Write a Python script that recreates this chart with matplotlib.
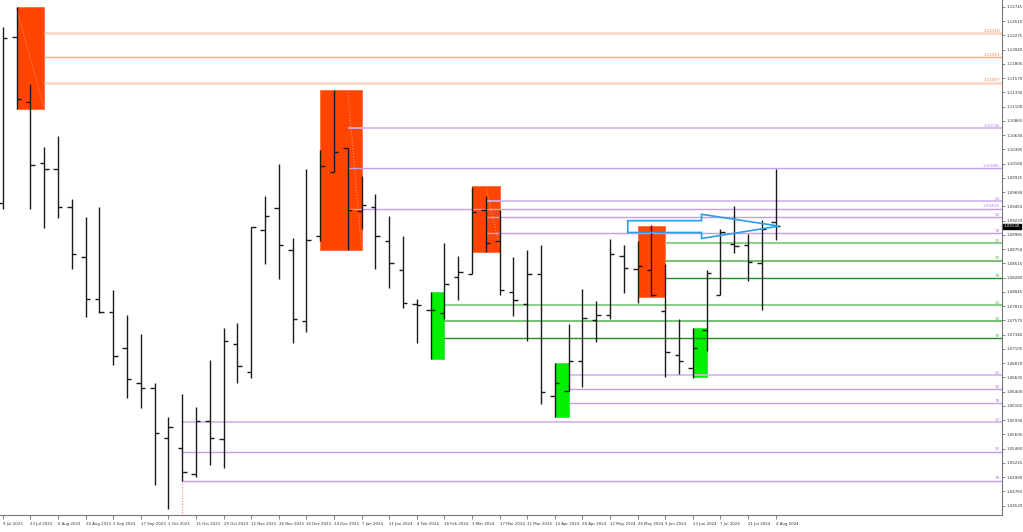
import matplotlib
matplotlib.use("Agg")
import matplotlib.pyplot as plt
from matplotlib.patches import Rectangle, Polygon

# ---------------- data ----------------
date_labels = ["9 Jul 2023", "23 Jul 2023", "6 Aug 2023", "20 Aug 2023", "3 Sep 2023",
               "17 Sep 2023", "1 Oct 2023", "15 Oct 2023", "29 Oct 2023", "12 Nov 2023",
               "26 Nov 2023", "10 Dec 2023", "24 Dec 2023", "7 Jan 2024", "21 Jan 2024",
               "4 Feb 2024", "18 Feb 2024", "3 Mar 2024", "17 Mar 2024", "31 Mar 2024",
               "14 Apr 2024", "28 Apr 2024", "12 May 2024", "26 May 2024", "9 Jun 2024",
               "23 Jun 2024", "7 Jul 2024", "21 Jul 2024", "4 Aug 2024"]

opens = [1.0951, 1.1225, 1.1118, 1.1017, 1.1007, 1.0945, 1.0862, 1.0793, 1.0772, 1.0712,
         1.0654, 1.0646, 1.0563, 1.0548, 1.0504, 1.0592, 1.0562, 1.0718, 1.0673, 1.0907,
         1.0943, 1.0874, 1.0756, 1.0896, 1.1002, 1.1042, 1.0938, 1.0944, 1.0888, 1.0840,
         1.0784, 1.0774, 1.0770, 1.0829, 1.0834, 1.0940, 1.0888, 1.0805, 1.0784, 1.0834,
         1.0633, 1.0641, 1.0691, 1.0758, 1.0767, 1.0864, 1.0842, 1.0840, 1.0773, 1.0701,
         1.0679, 1.0741, 1.0800, 1.0883, 1.0882, 1.0852, 1.0920]
highs = [1.1242, 1.1274, 1.1148, 1.1044, 1.1062, 1.0958, 1.0928, 1.0944, 1.0807, 1.0767,
         1.0735, 1.0654, 1.0598, 1.0637, 1.0614, 1.0692, 1.0745, 1.0754, 1.0912, 1.0963,
         1.1016, 1.0893, 1.1007, 1.1039, 1.1138, 1.1042, 1.0996, 1.0966, 1.0930, 1.0896,
         1.0793, 1.0804, 1.0886, 1.0864, 1.0978, 1.0962, 1.0940, 1.0862, 1.0874, 1.0882,
         1.0688, 1.0752, 1.0810, 1.0789, 1.0892, 1.0882, 1.0888, 1.0915, 1.0850, 1.0760,
         1.0745, 1.0841, 1.0909, 1.0946, 1.0900, 1.0924, 1.1007]
lows = [1.0941, 1.1107, 1.0941, 1.0910, 1.0927, 1.0843, 1.0763, 1.0769, 1.0684, 1.0629,
        1.0613, 1.0486, 1.0446, 1.0493, 1.0500, 1.0519, 1.0515, 1.0654, 1.0662, 1.0850,
        1.0826, 1.0721, 1.0739, 1.0889, 1.1002, 1.0874, 1.0908, 1.0842, 1.0811, 1.0778,
        1.0720, 1.0694, 1.0760, 1.0791, 1.0834, 1.0871, 1.0800, 1.0765, 1.0723, 1.0620,
        1.0599, 1.0641, 1.0647, 1.0722, 1.0760, 1.0802, 1.0786, 1.0798, 1.0665, 1.0669,
        1.0662, 1.0707, 1.0800, 1.0869, 1.0823, 1.0775, 1.0890]
closes = [1.1223, 1.1123, 1.1014, 1.1008, 1.0945, 1.0867, 1.0793, 1.0772, 1.0699, 1.0661,
          1.0646, 1.0572, 1.0581, 1.0507, 1.0592, 1.0564, 1.0723, 1.0683, 1.0911, 1.0929,
          1.0882, 1.0760, 1.0891, 1.1012, 1.1035, 1.0940, 1.0948, 1.0896, 1.0853, 1.0786,
          1.0783, 1.0775, 1.0818, 1.0837, 1.0936, 1.0886, 1.0807, 1.0791, 1.0834, 1.0639,
          1.0654, 1.0691, 1.0762, 1.0767, 1.0867, 1.0844, 1.0847, 1.0799, 1.0705, 1.0691,
          1.0712, 1.0836, 1.0903, 1.0880, 1.0854, 1.0908, 1.0913]

# supply (red) and demand (green) zones: (start week, end week, bottom, top)
red_zones = [(1, 3, 1.1106, 1.1274), (23, 26, 1.0874, 1.1138),
             (34, 36, 1.0870, 1.0979), (46, 48, 1.0796, 1.0913)]
green_zones = [(31, 32, 1.0694, 1.0805), (40, 41, 1.0599, 1.0688),
               (50, 51, 1.0664, 1.0745)]

# retracement level groups: start week, prices, labels, kind
level_groups = [
    (3, [1.12310, 1.11913, 1.11497], ["1.12310", "1.11913", "1.11497"], "orange"),
    (25, [1.10746, 1.10088, 1.09420], ["1.10746", "1.10088", "1.09420"], "purple"),
    (35, [1.09546, 1.09282, 1.09018], ["23", "50", "78"], "purple"),
    (48, [1.08853, 1.08564, 1.08276], ["23", "50", "78"], "green"),
    (32, [1.07831, 1.07567, 1.07286], ["23", "50", "78"], "green"),
    (41, [1.06676, 1.06440, 1.06209], ["23", "50", "78"], "purple"),
    (13, [1.05896, 1.05411, 1.04933], ["23", "50", "78"], "purple"),
]

arrow_x = [45.29, 50.64, 50.64, 56.25, 50.64, 50.64, 45.29]
arrow_y = [1.09221, 1.09221, 1.09326, 1.09132, 1.08927, 1.09026, 1.09026]

ytick_start, ytick_step, ytick_count = 1.04520, 0.00235, 36

# ---------------- figure ----------------
W, H = 1023, 532
fig = plt.figure(figsize=(W / 100, H / 100), dpi=100)
ax = fig.add_axes([0, 1 - 515 / H, 1002 / W, 515 / H])
ax.set_xlim(-0.196, 72.41)
ax.set_ylim(1.04367, 1.12860)

styles = {
    "orange": [("#FFD6C8", 2.0), ("#FFA584", 1.0), ("#FFD6C8", 2.0)],
    "purple": [("#D4B2EE", 1.2), ("#C59EE6", 1.0), ("#C59EE6", 1.0)],
    "green": [("#8CD08C", 1.5), ("#5DB85D", 1.2), ("#1E8E1E", 1.0)],
}
text_col = {"orange": "#FF7A4A", "purple": "#B77FE0", "green": "#5DB85D"}

xs = list(range(len(opens)))

# zones
for (x0, x1, b, t) in red_zones:
    ax.add_patch(Rectangle((x0, b), x1 - x0, t - b, facecolor="#FF4500",
                           edgecolor="#FF6A3A", lw=0.6, zorder=1))
for (x0, x1, b, t) in green_zones:
    ax.add_patch(Rectangle((x0, b), x1 - x0, t - b, facecolor="#00F000",
                           edgecolor="#40E040", lw=0.6, zorder=1))

# dotted diagonals in zones
dot = dict(color="#FF8A6A", lw=0.8, ls=(0, (1, 1.5)), zorder=2)
ax.plot([1, 3], [1.1272, 1.1108], **dot)
ax.plot([25, 26], [1.1138, 1.0878], **dot)
ax.plot([35, 36], [1.0979, 1.0879], **dot)
ax.plot([48, 48], [1.0905, 1.0796], **dot)
ax.plot([13, 13], [1.04933, 1.04367], **dot)

# levels
xr = 72.41
for start, prices, labels, kind in level_groups:
    for k, (p, lab) in enumerate(zip(prices, labels)):
        c, lw = styles[kind][k]
        ax.hlines(p, start, xr, colors=c, lw=lw, zorder=2)
        ax.text(72.25, p + 0.00004, lab, fontsize=3.0, color=text_col[kind],
                ha="right", va="bottom", zorder=5)

# OHLC bars
bar_col = "#1a1a1a"
ax.vlines(xs, lows, highs, colors=bar_col, lw=1.0, zorder=3)
ax.hlines(opens, [x - 0.32 for x in xs], xs, colors=bar_col, lw=1.0, zorder=3)
ax.hlines(closes, xs, [x + 0.32 for x in xs], colors=bar_col, lw=1.0, zorder=3)

# arrow outline
ax.add_patch(Polygon(list(zip(arrow_x, arrow_y)), closed=True, fill=False,
                     edgecolor="#27A0E6", lw=1.2, zorder=4))

# axes styling
for s in ["top", "left"]:
    ax.spines[s].set_visible(False)
ax.spines["right"].set_color("#777777")
ax.spines["bottom"].set_color("#777777")
ax.spines["right"].set_linewidth(0.8)
ax.spines["bottom"].set_linewidth(0.8)

yt = [round(ytick_start + i * ytick_step, 5) for i in range(ytick_count)]
ax.yaxis.tick_right()
ax.set_yticks(yt)
ax.set_yticklabels([f"{v:.5f}" for v in yt])
ax.tick_params(axis="y", labelsize=2.9, length=2, width=0.5, pad=1.5,
               colors="#555555", labelcolor="#333333")

ax.set_xticks(xs[::2])
ax.set_xticklabels(date_labels)
for lab in ax.get_xticklabels():
    lab.set_horizontalalignment("left")
ax.tick_params(axis="x", labelsize=2.8, length=3, width=0.5, pad=2,
               colors="#555555", labelcolor="#333333", direction="out")

# current price tag
last = closes[-1]
ax.annotate(f"{last:.5f}", xy=(1.0, last), xycoords=("axes fraction", "data"),
            xytext=(1.2, 0), textcoords="offset points", fontsize=2.9, color="white",
            va="center", ha="left",
            bbox=dict(boxstyle="square,pad=0.15", fc="black", ec="black"),
            annotation_clip=False, zorder=6)

fig.savefig("out.png", dpi=100)
